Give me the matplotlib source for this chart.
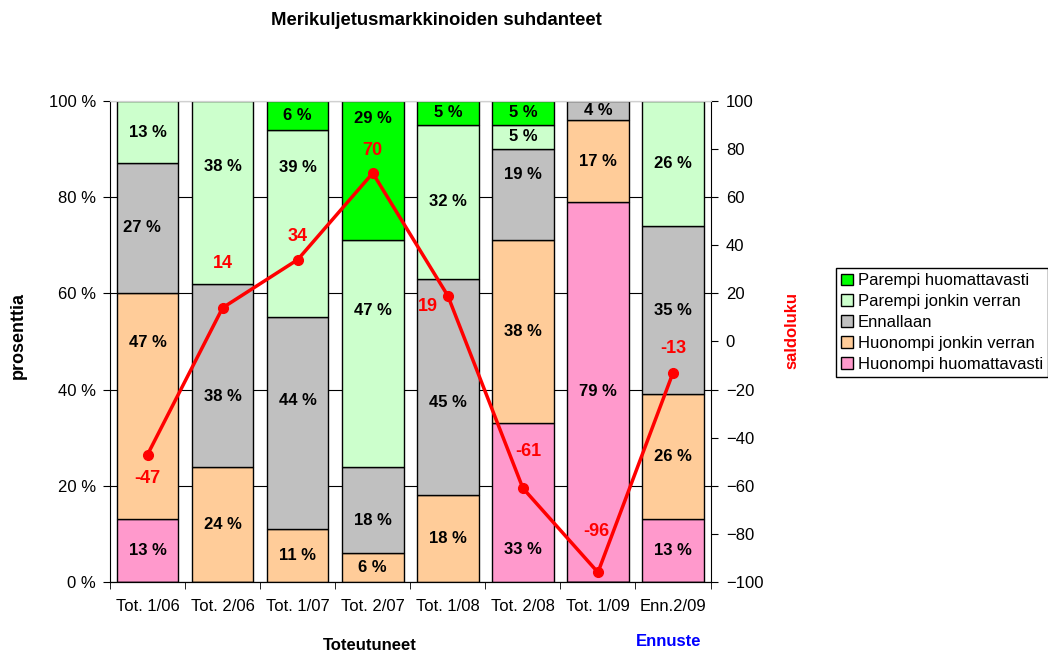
"""
suhdanne_chart.py

This module defines the MarketCycleChart class, which provides:
- Stacked percentage bars of survey answers per period
- A saldo (balance figure) line on a secondary axis

Values are typed in below and the chart is written to out.png.
"""

# === Third-Party Libraries ===
import pandas as pd                        # For holding the survey answers as a table
import matplotlib.pyplot as plt            # For creating charts and graphs
import matplotlib                          # For backend control when rendering charts

# === Matplotlib Configuration ===
matplotlib.use('Agg')                      # Use a non-GUI backend
plt.rcParams['font.family'] = ['Liberation Sans', 'DejaVu Sans']
plt.rcParams['font.size'] = 12

# === Chart Data ===
PERIODS = ["Tot. 1/06", "Tot. 2/06", "Tot. 1/07", "Tot. 2/07",
           "Tot. 1/08", "Tot. 2/08", "Tot. 1/09", "Enn.2/09"]
HUONOMPI_HUOM = [13, 0, 0, 0, 0, 33, 79, 13]        # Huonompi huomattavasti
HUONOMPI_JONKIN = [47, 24, 11, 6, 18, 38, 17, 26]   # Huonompi jonkin verran
ENNALLAAN = [27, 38, 44, 18, 45, 19, 4, 35]         # Ennallaan
PAREMPI_JONKIN = [13, 38, 39, 47, 32, 5, 0, 26]     # Parempi jonkin verran
PAREMPI_HUOM = [0, 0, 6, 29, 5, 5, 0, 0]            # Parempi huomattavasti
SALDO = [-47, 14, 34, 70, 19, -61, -96, -13]        # saldoluku


class MarketCycleChart:
    """
    This chart draws the answer shares as stacked bars and the saldo as a line.
    """

    def __init__(self):
        """
        Builds the answer table from the lists above.
        """
        self.df = pd.DataFrame({
            "Huonompi huomattavasti": HUONOMPI_HUOM,
            "Huonompi jonkin verran": HUONOMPI_JONKIN,
            "Ennallaan": ENNALLAAN,
            "Parempi jonkin verran": PAREMPI_JONKIN,
            "Parempi huomattavasti": PAREMPI_HUOM,
        }, index=PERIODS)
        self.colors = ['#FF99CC', '#FFCC99', '#C0C0C0', '#CCFFCC', '#00FF00']
        # Pixel offsets of the saldo labels from their points
        self.label_offsets = [(0, -24), (0, 44), (0, 23), (0, 23),
                              (-20, -11), (5, 37), (-2, 41), (0, 24)]
        # Moved bar labels: (column, period) -> (x shift, y in percent)
        self.moved_labels = {
            (1, 0): (0, 49.7), (2, 0): (-0.08, 73.6),
            (2, 1): (0, 38.5), (3, 1): (0, 86.3),
            (2, 2): (0, 37.8), (3, 2): (0, 86.1),
            (2, 3): (0, 12.7), (3, 3): (0, 56.5), (4, 3): (0, 96.3),
            (2, 4): (0, 37.4),
            (0, 5): (0, 6.7), (2, 5): (0, 84.8),
        }

    def draw(self, image_path="out.png"):
        """
        Draws the whole chart and saves it.

        Parameters:
            image_path (str): Where the picture is written.
        """
        fig = plt.figure(figsize=(10.48, 6.51), dpi=100)
        ax = fig.add_axes([0.105, 0.106, 0.573, 0.739])

        self.df.plot(kind='bar', stacked=True, color=self.colors, width=0.82,
                     edgecolor='black', linewidth=1, legend=False, ax=ax, zorder=2)
        ax.set_xlim(-0.5, len(PERIODS) - 0.5)
        ax.set_ylim(0, 100)
        ax.yaxis.grid(True, color='black', linewidth=0.8, zorder=0)
        ax.set_axisbelow(True)

        # Percent labels inside each bar segment
        bottoms = [0] * len(PERIODS)
        for c, column in enumerate(self.df.columns):
            for i, value in enumerate(self.df[column]):
                if value > 0:
                    dx, y = self.moved_labels.get((c, i), (0, bottoms[i] + value / 2))
                    ax.text(i + dx, y, f"{value} %", ha='center', va='center',
                            fontweight='bold', fontsize=12, zorder=3)
                bottoms[i] += value

        ax.set_yticks(range(0, 101, 20))
        ax.set_yticklabels([f"{v} %" for v in range(0, 101, 20)])
        ax.tick_params(axis='y', length=5, pad=5)
        ax.set_xticks(range(len(PERIODS)))
        ax.set_xticklabels(PERIODS, rotation=0)
        ax.set_xticks([i - 0.5 for i in range(len(PERIODS) + 1)], minor=True)
        ax.tick_params(axis='x', which='major', length=0, pad=12)
        ax.tick_params(axis='x', which='minor', length=5)
        ax.set_xlabel("")
        ax.spines['top'].set_color('#D0D0D0')
        ax.spines['right'].set_visible(False)

        # Saldo line on the secondary axis
        ax2 = ax.twinx()
        ax2.plot(range(len(PERIODS)), SALDO, color='#FF0000', linewidth=2.5,
                 marker='o', markersize=7, zorder=4)
        for i, value in enumerate(SALDO):
            ax2.annotate(str(value), (i, value), xytext=self.label_offsets[i],
                         textcoords='offset pixels', ha='center', va='center',
                         color='#FF0000', fontweight='bold', fontsize=13)
        ax2.set_ylim(-100, 100)
        ax2.set_yticks(range(-100, 101, 20))
        ax2.tick_params(axis='y', length=5, pad=6)
        ax2.spines['top'].set_color('#D0D0D0')
        ax2.spines['left'].set_visible(False)

        # Titles and axis names
        fig.text(0.416, 0.969, "Merikuljetusmarkkinoiden suhdanteet", ha='center',
                 va='center', fontweight='bold', fontsize=13.3)
        fig.text(0.353, 0.009, "Toteutuneet", ha='center', va='center',
                 fontweight='bold', fontsize=12)
        fig.text(0.638, 0.014, "Ennuste", ha='center', va='center',
                 fontweight='bold', fontsize=12, color='#0000FF')
        fig.text(0.017, 0.484, "prosenttia", ha='center', va='center', rotation=90,
                 fontweight='bold', fontsize=13)
        fig.text(0.756, 0.493, "saldoluku", ha='center', va='center', rotation=90,
                 fontweight='bold', fontsize=12, color='#FF0000')

        handles, labels = ax.get_legend_handles_labels()
        fig.legend(handles[::-1], labels[::-1], loc='upper left',
                   bbox_to_anchor=(0.798, 0.588), fancybox=False, edgecolor='black',
                   framealpha=1, handlelength=0.7, handleheight=0.7,
                   handletextpad=0.3, labelspacing=0.35, borderpad=0.3,
                   borderaxespad=0, fontsize=12)

        plt.savefig(image_path)
        plt.close()


chart = MarketCycleChart()
chart.draw("out.png")
